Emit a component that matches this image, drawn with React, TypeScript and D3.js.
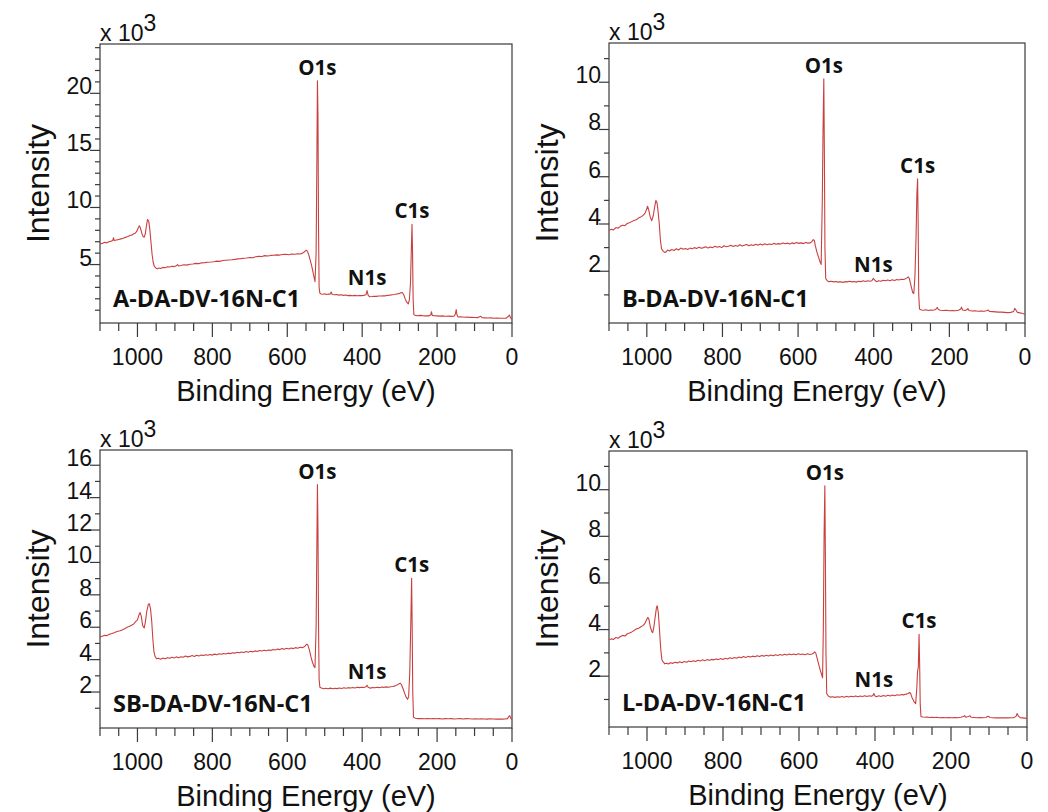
import React from "react";
import * as d3 from "d3";

// survey spectra, [binding energy (eV), intensity (x10^3 counts)]
const spectrumA: [number, number][] = [
  [1100, 6.83], [1094, 6.85], [1088, 6.95], [1082, 6.9], [1076, 7.0], [1070, 7.05], [1066, 7.1], [1064, 7.35], [1062, 7.1],
  [1056, 7.15], [1050, 7.2], [1044, 7.25], [1038, 7.3], [1032, 7.38], [1026, 7.45], [1020, 7.55], [1014, 7.6], [1010, 7.7],
  [1006, 7.75], [1002, 7.9], [998, 8.2], [995, 8.4], [992, 8.2], [988, 7.7], [985, 7.45], [982, 7.4], [979, 7.7], [976, 8.4],
  [973, 8.95], [970, 8.8], [967, 8.1], [964, 7.0], [961, 5.9], [958, 5.2], [955, 4.85], [951, 4.7], [947, 4.62], [943, 4.7],
  [938, 4.65], [932, 4.75], [926, 4.72], [920, 4.8], [914, 4.78], [908, 4.85], [902, 4.82], [896, 4.9], [893, 5.0], [890, 4.88],
  [884, 4.92], [876, 4.98], [868, 4.95], [860, 5.02], [852, 5.05], [844, 5.1], [836, 5.08], [828, 5.15], [820, 5.17], [812, 5.2],
  [804, 5.22], [796, 5.25], [788, 5.3], [780, 5.28], [772, 5.35], [764, 5.38], [756, 5.4], [748, 5.42], [740, 5.45], [732, 5.5],
  [724, 5.52], [716, 5.55], [708, 5.58], [700, 5.62], [692, 5.6], [684, 5.68], [676, 5.72], [668, 5.7], [660, 5.78], [652, 5.75],
  [644, 5.8], [636, 5.82], [628, 5.85], [620, 5.83], [612, 5.88], [604, 5.9], [596, 5.86], [588, 5.92], [580, 5.9], [572, 5.95],
  [566, 5.93], [560, 5.98], [555, 6.1], [550, 6.25], [547, 6.2], [543, 5.9], [539, 5.4], [535, 4.9], [531, 4.3], [528, 3.8],
  [526, 3.5], [523, 6], [521, 14], [519.5, 21.1], [518, 18], [516.5, 8], [515, 3], [513, 2.5], [510, 2.42], [505, 2.4],
  [500, 2.45], [495, 2.38], [490, 2.42], [486, 2.4], [483, 2.6], [480, 2.38], [474, 2.35], [468, 2.37], [462, 2.32], [456, 2.35],
  [450, 2.3], [444, 2.33], [438, 2.28], [432, 2.3], [426, 2.27], [420, 2.3], [414, 2.26], [408, 2.29], [402, 2.28], [396, 2.3],
  [390, 2.35], [387, 2.72], [384, 2.3], [380, 2.18], [374, 2.2], [368, 2.23], [362, 2.21], [356, 2.25], [350, 2.24], [344, 2.27],
  [338, 2.26], [332, 2.3], [326, 2.32], [320, 2.35], [314, 2.38], [308, 2.42], [302, 2.45], [297, 2.52], [293, 2.55], [289, 2.35],
  [285, 1.97], [281, 1.7], [277, 1.55], [274, 1.9], [271, 3.4], [269, 6], [267, 8.53], [265.5, 6], [264, 2], [262, 0.6],
  [258, 0.55], [252, 0.52], [246, 0.55], [240, 0.53], [234, 0.5], [228, 0.52], [222, 0.5], [217, 0.6], [215, 0.87], [213, 0.55],
  [208, 0.52], [200, 0.5], [192, 0.48], [184, 0.5], [176, 0.47], [168, 0.48], [160, 0.46], [154, 0.5], [151, 0.7], [149, 1.05],
  [147, 0.6], [144, 0.4], [138, 0.42], [132, 0.4], [126, 0.38], [120, 0.4], [114, 0.37], [108, 0.38], [100, 0.36], [92, 0.35],
  [85, 0.44], [83, 0.47], [80, 0.34], [72, 0.33], [64, 0.32], [56, 0.33], [48, 0.3], [40, 0.32], [32, 0.3], [24, 0.29],
  [16, 0.3], [10, 0.45], [7, 0.58], [4, 0.35], [2, 0.25], [0, 0.2],
];

const spectrumB: [number, number][] = [
  [1100, 3.73], [1094, 3.78], [1088, 3.75], [1082, 3.85], [1076, 3.82], [1070, 3.9], [1064, 3.95], [1058, 3.93], [1052, 4.02],
  [1046, 4.05], [1040, 4.1], [1034, 4.15], [1028, 4.18], [1022, 4.25], [1016, 4.3], [1010, 4.36], [1005, 4.45], [1001, 4.6],
  [998, 4.75], [995, 4.6], [991, 4.3], [987, 4.14], [983, 4.35], [979, 4.75], [976, 5.0], [973, 4.9], [970, 4.5], [967, 4.0],
  [964, 3.3], [961, 2.95], [957, 2.85], [953, 2.8], [949, 2.82], [945, 2.9], [940, 2.86], [934, 2.92], [928, 2.88], [922, 2.95],
  [916, 2.9], [910, 2.98], [904, 2.93], [898, 2.96], [892, 2.92], [886, 2.98], [880, 2.95], [874, 3.0], [868, 2.96], [862, 3.02],
  [856, 2.97], [850, 3.0], [844, 3.04], [838, 2.98], [832, 3.03], [826, 3.0], [820, 3.06], [814, 3.02], [808, 3.05], [802, 3.0],
  [796, 3.08], [790, 3.04], [784, 3.06], [778, 3.1], [772, 3.05], [766, 3.09], [760, 3.06], [754, 3.12], [748, 3.07], [742, 3.1],
  [736, 3.13], [730, 3.08], [724, 3.12], [718, 3.09], [712, 3.14], [706, 3.1], [700, 3.15], [694, 3.11], [688, 3.16], [682, 3.12],
  [676, 3.15], [670, 3.13], [664, 3.18], [658, 3.14], [652, 3.17], [646, 3.15], [640, 3.2], [634, 3.16], [628, 3.19], [622, 3.15],
  [616, 3.2], [610, 3.17], [604, 3.22], [598, 3.18], [592, 3.2], [586, 3.17], [580, 3.22], [574, 3.19], [568, 3.2], [564, 3.25],
  [560, 3.34], [557, 3.3], [554, 3.05], [550, 2.8], [546, 2.6], [542, 2.4], [539, 2.29], [536, 5], [534, 8], [532, 10.15],
  [530.5, 7], [529, 3], [527, 1.7], [523, 1.6], [518, 1.56], [512, 1.58], [506, 1.55], [500, 1.57], [494, 1.54], [488, 1.56],
  [482, 1.53], [476, 1.56], [470, 1.55], [464, 1.58], [458, 1.55], [452, 1.57], [446, 1.54], [440, 1.58], [434, 1.56], [428, 1.6],
  [422, 1.57], [416, 1.6], [410, 1.58], [405, 1.6], [401, 1.7], [397, 1.62], [393, 1.56], [387, 1.6], [381, 1.58], [375, 1.62],
  [369, 1.6], [363, 1.63], [357, 1.6], [351, 1.64], [345, 1.61], [339, 1.65], [333, 1.63], [327, 1.66], [321, 1.65], [316, 1.68],
  [312, 1.72], [309, 1.76], [306, 1.7], [303, 1.5], [300, 1.3], [297, 1.1], [294, 1.06], [291, 1.8], [288, 3.5], [286, 5.2],
  [284, 5.91], [282.5, 4], [281, 1], [279, 0.4], [274, 0.36], [268, 0.35], [262, 0.37], [256, 0.34], [250, 0.36], [244, 0.35],
  [238, 0.37], [234, 0.42], [232, 0.47], [229, 0.38], [224, 0.35], [216, 0.34], [208, 0.35], [200, 0.33], [192, 0.34], [184, 0.33],
  [176, 0.35], [170, 0.4], [168, 0.48], [165, 0.36], [158, 0.34], [153, 0.38], [151, 0.42], [148, 0.34], [140, 0.32], [132, 0.33],
  [124, 0.31], [116, 0.32], [108, 0.31], [100, 0.34], [97, 0.36], [94, 0.3], [86, 0.29], [78, 0.28], [70, 0.27], [62, 0.27],
  [54, 0.26], [46, 0.25], [38, 0.26], [30, 0.3], [27, 0.43], [24, 0.36], [20, 0.26], [14, 0.24], [8, 0.22], [4, 0.2], [0, 0.18],
];

const spectrumSB: [number, number][] = [
  [1100, 5.4], [1094, 5.45], [1088, 5.5], [1082, 5.48], [1076, 5.56], [1070, 5.6], [1064, 5.65], [1058, 5.7], [1052, 5.75],
  [1046, 5.78], [1040, 5.85], [1034, 5.9], [1028, 6.0], [1022, 6.05], [1016, 6.12], [1010, 6.2], [1005, 6.35], [1000, 6.45],
  [996, 6.75], [993, 6.91], [990, 6.7], [986, 6.1], [982, 5.95], [979, 6.3], [975, 7.0], [971, 7.4], [968, 7.45], [965, 7.1],
  [962, 6.4], [959, 5.3], [956, 4.5], [953, 4.2], [949, 4.05], [944, 4.08], [938, 4.02], [932, 4.1], [926, 4.05], [920, 4.12],
  [914, 4.08], [908, 4.15], [902, 4.1], [896, 4.17], [890, 4.12], [884, 4.18], [878, 4.15], [872, 4.22], [866, 4.17], [860, 4.2],
  [854, 4.25], [848, 4.2], [842, 4.27], [836, 4.23], [830, 4.28], [824, 4.25], [818, 4.3], [812, 4.27], [806, 4.32], [800, 4.28],
  [794, 4.34], [788, 4.3], [782, 4.36], [776, 4.33], [770, 4.38], [764, 4.35], [758, 4.4], [752, 4.37], [746, 4.42], [740, 4.4],
  [734, 4.45], [728, 4.42], [722, 4.47], [716, 4.44], [710, 4.5], [704, 4.46], [698, 4.52], [692, 4.48], [686, 4.54], [680, 4.5],
  [674, 4.56], [668, 4.53], [662, 4.58], [656, 4.55], [650, 4.6], [644, 4.57], [638, 4.63], [632, 4.6], [626, 4.65], [620, 4.62],
  [614, 4.68], [608, 4.64], [602, 4.7], [596, 4.66], [590, 4.72], [584, 4.68], [578, 4.74], [572, 4.7], [566, 4.76], [560, 4.74],
  [556, 4.78], [552, 4.85], [548, 4.95], [545, 4.9], [541, 4.6], [537, 4.2], [533, 3.85], [529, 3.6], [526, 3.5], [523, 6],
  [521, 11], [519.5, 14.8], [518, 12], [516.5, 6], [515, 2.8], [513, 2.3], [509, 2.25], [503, 2.2], [497, 2.23], [491, 2.2],
  [485, 2.24], [479, 2.2], [473, 2.23], [467, 2.21], [461, 2.25], [455, 2.22], [449, 2.26], [443, 2.23], [437, 2.27], [431, 2.25],
  [425, 2.28], [419, 2.25], [413, 2.3], [407, 2.27], [401, 2.3], [395, 2.28], [390, 2.32], [387, 2.42], [384, 2.3], [378, 2.24],
  [372, 2.28], [366, 2.26], [360, 2.3], [354, 2.27], [348, 2.31], [342, 2.29], [336, 2.32], [330, 2.3], [324, 2.33], [318, 2.34],
  [312, 2.38], [306, 2.45], [301, 2.52], [298, 2.54], [295, 2.45], [291, 2.2], [287, 1.95], [283, 1.7], [279, 1.55], [276, 1.7],
  [273, 3.2], [270, 6.5], [268, 9.02], [266.5, 6], [265, 2], [263, 0.45], [258, 0.38], [250, 0.36], [242, 0.37], [234, 0.35],
  [226, 0.36], [218, 0.35], [210, 0.36], [202, 0.35], [194, 0.36], [186, 0.34], [178, 0.36], [170, 0.35], [162, 0.36], [154, 0.34],
  [146, 0.35], [138, 0.36], [130, 0.34], [122, 0.36], [114, 0.35], [106, 0.34], [98, 0.35], [90, 0.34], [82, 0.35], [74, 0.34],
  [66, 0.33], [58, 0.35], [50, 0.34], [42, 0.33], [34, 0.34], [26, 0.33], [18, 0.34], [12, 0.36], [9, 0.48], [6, 0.54],
  [3, 0.36], [0, 0.3],
];

const spectrumL: [number, number][] = [
  [1100, 3.55], [1094, 3.6], [1088, 3.58], [1082, 3.66], [1076, 3.63], [1070, 3.7], [1064, 3.75], [1058, 3.72], [1052, 3.82],
  [1046, 3.85], [1040, 3.9], [1034, 3.96], [1028, 4.03], [1022, 4.06], [1016, 4.12], [1010, 4.18], [1005, 4.28], [1001, 4.42],
  [998, 4.52], [995, 4.45], [991, 4.1], [987, 3.9], [985, 3.87], [982, 4.1], [978, 4.6], [975, 4.95], [973, 5.02], [970, 4.7],
  [967, 3.95], [964, 3.2], [961, 2.72], [957, 2.6], [953, 2.53], [949, 2.56], [944, 2.52], [938, 2.58], [932, 2.55], [926, 2.6],
  [920, 2.57], [914, 2.62], [908, 2.58], [902, 2.63], [896, 2.6], [890, 2.65], [884, 2.62], [878, 2.66], [872, 2.63], [866, 2.68],
  [860, 2.65], [854, 2.7], [848, 2.66], [842, 2.71], [836, 2.68], [830, 2.72], [824, 2.7], [818, 2.74], [812, 2.71], [806, 2.76],
  [800, 2.72], [794, 2.77], [788, 2.74], [782, 2.79], [776, 2.76], [770, 2.8], [764, 2.77], [758, 2.82], [752, 2.79], [746, 2.84],
  [740, 2.8], [734, 2.85], [728, 2.82], [722, 2.86], [716, 2.83], [710, 2.88], [704, 2.84], [698, 2.89], [692, 2.86], [686, 2.9],
  [680, 2.87], [674, 2.91], [668, 2.88], [662, 2.92], [656, 2.89], [650, 2.93], [644, 2.9], [638, 2.94], [632, 2.91], [626, 2.95],
  [620, 2.92], [614, 2.95], [608, 2.92], [602, 2.96], [596, 2.93], [590, 2.95], [584, 2.92], [578, 2.96], [572, 2.93], [566, 2.95],
  [562, 2.98], [559, 3.04], [556, 3.0], [552, 2.75], [548, 2.5], [544, 2.25], [540, 2.05], [538, 1.93], [536, 4], [534, 8],
  [532, 10.17], [530.5, 7], [529, 3], [527, 1.25], [523, 1.15], [517, 1.1], [511, 1.12], [505, 1.09], [499, 1.12], [493, 1.1],
  [487, 1.13], [481, 1.1], [475, 1.14], [469, 1.11], [463, 1.14], [457, 1.12], [451, 1.15], [445, 1.12], [439, 1.15], [433, 1.13],
  [427, 1.16], [421, 1.13], [415, 1.16], [409, 1.14], [405, 1.18], [403, 1.26], [400, 1.15], [396, 1.12], [390, 1.16], [384, 1.13],
  [378, 1.17], [372, 1.14], [366, 1.18], [360, 1.15], [354, 1.19], [348, 1.16], [342, 1.2], [336, 1.18], [330, 1.21], [324, 1.2],
  [318, 1.23], [313, 1.26], [309, 1.3], [306, 1.25], [303, 1.1], [300, 1.0], [297, 0.9], [293, 0.82], [290, 1.5], [288, 2.2],
  [286, 2.4], [284, 3.8], [282.5, 2.5], [281, 0.8], [279, 0.27], [274, 0.25], [268, 0.24], [262, 0.25], [256, 0.23], [250, 0.24],
  [244, 0.23], [238, 0.24], [230, 0.22], [222, 0.23], [214, 0.22], [206, 0.23], [198, 0.22], [190, 0.23], [182, 0.22], [174, 0.24],
  [166, 0.28], [164, 0.31], [161, 0.24], [154, 0.27], [150, 0.3], [147, 0.24], [140, 0.23], [132, 0.22], [124, 0.23], [116, 0.22],
  [108, 0.23], [104, 0.27], [101, 0.28], [98, 0.23], [90, 0.22], [82, 0.21], [74, 0.22], [66, 0.21], [58, 0.22], [50, 0.21],
  [42, 0.22], [34, 0.22], [28, 0.3], [26, 0.4], [23, 0.3], [18, 0.22], [12, 0.21], [6, 0.2], [0, 0.18],
];

// peak labels: name, binding energy, peak height
const peaksA: [string, number, number][] = [["O1s", 519.5, 21.1], ["N1s", 387, 2.72], ["C1s", 267, 8.53]];
const peaksB: [string, number, number][] = [["O1s", 532, 10.15], ["N1s", 401, 1.7], ["C1s", 284, 5.91]];
const peaksSB: [string, number, number][] = [["O1s", 519.5, 14.8], ["N1s", 387, 2.42], ["C1s", 268, 9.02]];
const peaksL: [string, number, number][] = [["O1s", 532, 10.17], ["N1s", 403, 1.26], ["C1s", 284, 3.8]];

const xLabels = [1000, 800, 600, 400, 200, 0];

const panels = [
  { name: "A-DA-DV-16N-C1", data: spectrumA, peaks: peaksA, box: [100, 44, 512, 323], yDomain: [-0.12, 24.32], yLabels: [5, 10, 15, 20], yMajor: 5 },
  { name: "B-DA-DV-16N-C1", data: spectrumB, peaks: peaksB, box: [609, 43, 1025, 323], yDomain: [-0.19, 11.66], yLabels: [2, 4, 6, 8, 10], yMajor: 2 },
  { name: "SB-DA-DV-16N-C1", data: spectrumSB, peaks: peaksSB, box: [100, 450, 512, 728], yDomain: [-0.22, 16.94], yLabels: [2, 4, 6, 8, 10, 12, 14, 16], yMajor: 2 },
  { name: "L-DA-DV-16N-C1", data: spectrumL, peaks: peaksL, box: [609, 451, 1027, 727], yDomain: [-0.18, 11.66], yLabels: [2, 4, 6, 8, 10], yMajor: 2 },
];

const LINE = "#c8413f";
const AXIS = "#3a3a3a";
const sans = "'Liberation Sans', Arial, sans-serif";
const bold = "'Open Sans', sans-serif";

function Panel({ p }: { p: any }) {
  const [left, top, right, bottom] = p.box;
  const x = d3.scaleLinear().domain([1100, 0]).range([left, right]);
  const y = d3.scaleLinear().domain(p.yDomain).range([bottom, top]);
  const line = d3.line<[number, number]>().x(d => x(d[0])).y(d => y(d[1]));
  const xMinor = d3.range(1100, -1, -50);
  const yMinor = d3.range(1, Math.floor(p.yDomain[1]) + 1);
  const cy = (top + bottom) / 2;

  return (
    <g>
      <rect x={left} y={top} width={right - left} height={bottom - top} fill="none" stroke={AXIS} strokeWidth={1.2} />
      {xMinor.map(v => (
        <line key={"xt" + v} x1={x(v)} x2={x(v)} y1={bottom} y2={bottom + (v % 200 === 0 ? 14 : 8)} stroke={AXIS} strokeWidth={1.2} />
      ))}
      {xLabels.map(v => (
        <text key={"xl" + v} x={x(v)} y={bottom + 42} textAnchor="middle" fontFamily={sans} fontSize={23} fill="#111">{v}</text>
      ))}
      {yMinor.map(v => (
        <line key={"yt" + v} x1={left - (v % p.yMajor === 0 ? 10 : 5)} x2={left} y1={y(v)} y2={y(v)} stroke={AXIS} strokeWidth={1.2} />
      ))}
      {p.yLabels.map((v: number) => (
        <text key={"yl" + v} x={left - 8} y={y(v) + 1} textAnchor="end" fontFamily={sans} fontSize={23} fill="#111">{v}</text>
      ))}
      <text x={left} y={top - 3} fontFamily={sans} fontSize={23} fill="#111">
        x 10<tspan dy={-10}>3</tspan>
      </text>
      <text transform={`translate(${left - 51},${cy}) rotate(-90)`} textAnchor="middle" fontFamily={sans} fontSize={32} fill="#111">Intensity</text>
      <text x={(left + right) / 2} y={bottom + 78} textAnchor="middle" fontFamily={sans} fontSize={29} fill="#111">Binding Energy (eV)</text>
      <path d={line(p.data) || ""} fill="none" stroke={LINE} strokeWidth={1.1} strokeLinejoin="round" />
      {p.peaks.map((pk: [string, number, number]) => (
        <text key={pk[0]} x={x(pk[1])} y={y(pk[2]) - 6} textAnchor="middle" fontFamily={bold} fontWeight={700} fontSize={20.5} fill="#111">{pk[0]}</text>
      ))}
      <text x={left + 13} y={bottom - 16.5} fontFamily={bold} fontWeight={700} fontSize={23.5} fill="#111">{p.name}</text>
    </g>
  );
}

export default function App() {
  return (
    <svg width={1048} height={812} style={{ position: "absolute", left: 0, top: 0, background: "#fff" }}>
      {panels.map(p => <Panel key={p.name} p={p} />)}
    </svg>
  );
}
